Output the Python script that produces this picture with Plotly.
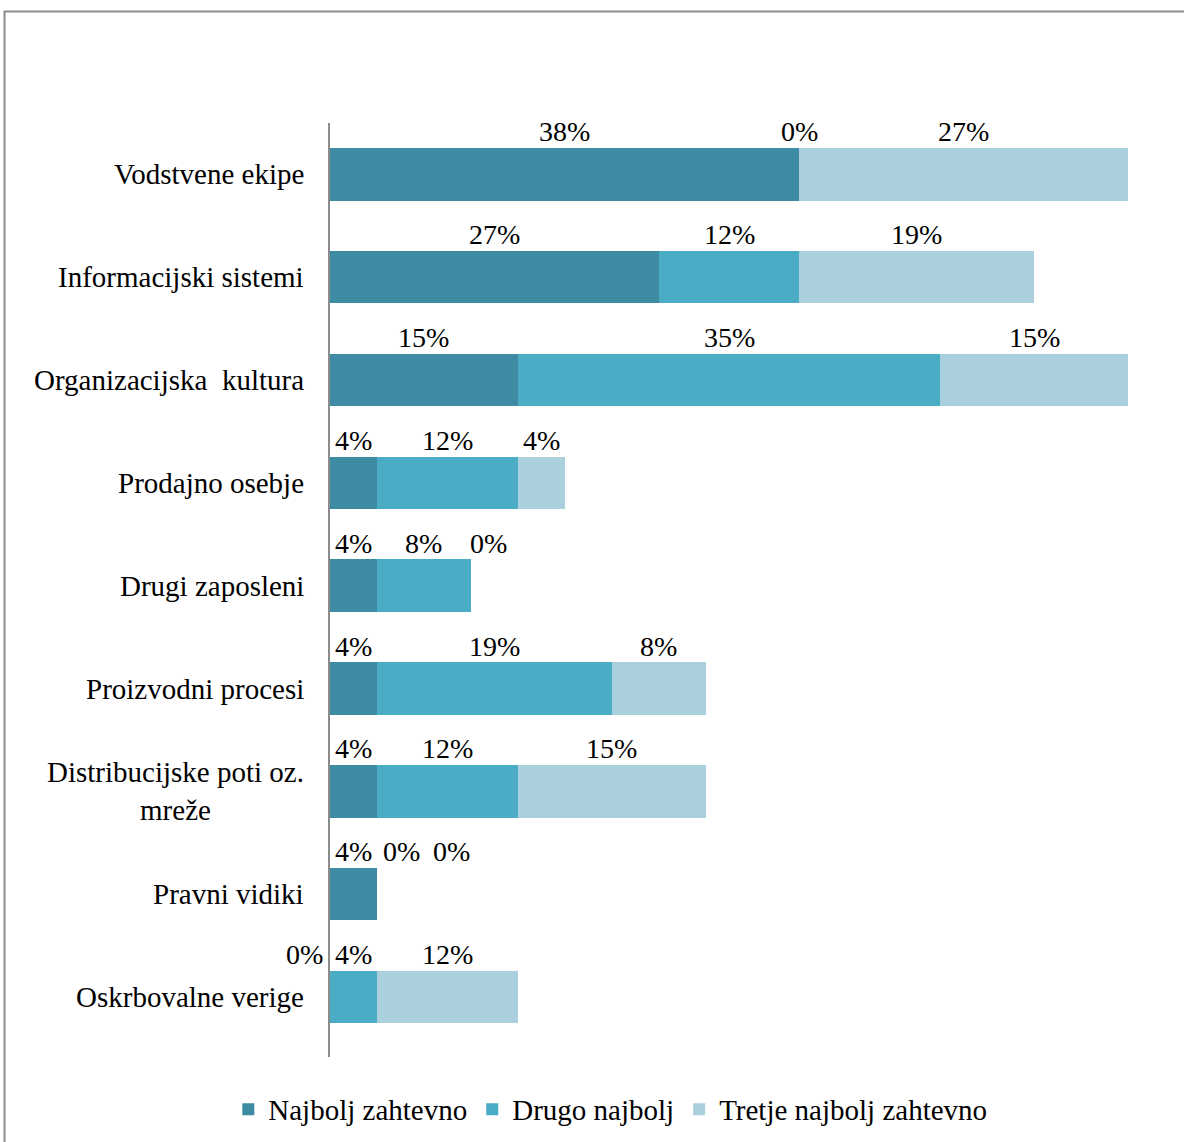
import plotly.graph_objects as go

categories = ["Vodstvene ekipe", "Informacijski sistemi", "Organizacijska  kultura",
              "Prodajno osebje", "Drugi zaposleni", "Proizvodni procesi",
              "Distribucijske poti oz.<br>mreže", "Pravni vidiki", "Oskrbovalne verige"]
series_names = ["Najbolj zahtevno", "Drugo najbolj", "Tretje najbolj zahtevno"]
najbolj = [38.46, 26.92, 15.38, 3.85, 3.85, 3.85, 3.85, 3.85, 0.0]
drugo = [0.0, 11.54, 34.62, 11.54, 7.69, 19.23, 11.54, 0.0, 3.85]
tretje = [26.92, 19.23, 15.38, 3.85, 0.0, 7.69, 15.38, 0.0, 11.54]
colors = ["#3D8CA3", "#4BACC6", "#AACFDD"]

# label nudges (pixels) for overlapping zero labels: (series index, category index) -> xshift
label_nudge = {(2, 4): 18, (1, 7): 25, (2, 7): 75, (0, 8): -26}

FONT = "Liberation Serif, Times New Roman, serif"
fig = go.Figure()
all_series = [najbolj, drugo, tretje]
for name, vals, col in zip(series_names, all_series, colors):
    fig.add_trace(go.Bar(y=categories, x=vals, name=name, orientation="h",
                         marker=dict(color=col, line=dict(width=0))))

annotations = []
for ci, cat in enumerate(categories):
    start = 0.0
    for si, vals in enumerate(all_series):
        v = vals[ci]
        annotations.append(dict(x=start + v / 2, y=cat, xref="x", yref="y",
                                text=f"{round(v)}%", showarrow=False,
                                yanchor="bottom", yshift=25,
                                xshift=label_nudge.get((si, ci), 0),
                                font=dict(family=FONT, size=28, color="#000")))
        start += v
    annotations.append(dict(x=0, y=cat, xref="paper", yref="y", text=cat,
                            showarrow=False, xanchor="right", align="center",
                            xshift=-24, font=dict(family=FONT, size=29, color="#000")))

fig.update_layout(
    width=1184, height=1142,
    margin=dict(l=330, r=2, t=123, b=85),
    paper_bgcolor="white", plot_bgcolor="white",
    barmode="stack", bargap=0.49,
    font=dict(family=FONT, size=29, color="#000"),
    xaxis=dict(range=[0, 69.8], visible=False, fixedrange=True),
    yaxis=dict(autorange="reversed", showticklabels=False, showgrid=False,
               showline=True, linecolor="#8c8c8c", linewidth=1.5, zeroline=False, ticks=""),
    legend=dict(orientation="h", x=0.329, xanchor="center", y=-0.056, yanchor="middle",
                font=dict(family=FONT, size=29), itemwidth=30, traceorder="normal"),
    annotations=annotations,
    shapes=[dict(type="rect", xref="paper", yref="paper",
                 x0=-0.382, x1=1.2, y0=-0.3, y1=1.1194,
                 line=dict(color="#8c8c8c", width=2), fillcolor="rgba(0,0,0,0)", layer="below")],
)
fig.write_html("out.html")
